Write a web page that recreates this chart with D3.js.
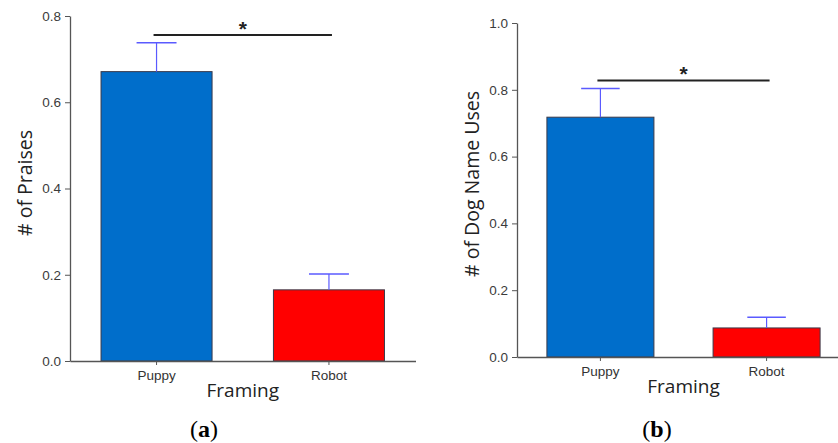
<!DOCTYPE html>
<html>
<head>
<meta charset="utf-8">
<script src="https://cdn.jsdelivr.net/npm/d3@7"></script>
<style>
  body { margin: 0; background: #fff; }
  svg { display: block; }
</style>
</head>
<body>
<div id="chart"></div>
<script>
// categories and values
var categories = ['Puppy', 'Robot'];
var praiseMeans = [0.671, 0.165];
var praiseErrs = [0.067, 0.037];
var dogNameMeans = [0.718, 0.087];
var dogNameErrs = [0.086, 0.032];
var praiseTicks = [0.0, 0.2, 0.4, 0.6, 0.8];
var dogNameTicks = [0.0, 0.2, 0.4, 0.6, 0.8, 1.0];
var barColors = ['#006ecb', '#ff0000'];

var W = 838, H = 443;
var svg = d3.select('#chart').append('svg')
  .attr('width', W)
  .attr('height', H);

function drawPanel(opt) {
  var g = svg.append('g');

  var y = d3.scaleLinear()
    .domain([0, opt.yMax])
    .range([opt.y0, opt.y1]);

  var x = d3.scaleBand()
    .domain(categories)
    .range([opt.x0, opt.x1])
    .paddingInner(0.356)
    .paddingOuter(0.18);

  // bars
  g.selectAll('rect.bar')
    .data(opt.means)
    .join('rect')
    .attr('class', 'bar')
    .attr('x', (d, i) => x(categories[i]))
    .attr('y', d => y(d))
    .attr('width', x.bandwidth())
    .attr('height', d => y(0) - y(d))
    .style('fill', (d, i) => barColors[i])
    .style('stroke', '#3a3a4a')
    .style('stroke-width', 1);

  // error bars (upper only)
  var cap = x.bandwidth() * 0.18;
  opt.means.forEach(function(m, i) {
    var cx = x(categories[i]) + x.bandwidth() / 2;
    g.append('line')
      .attr('x1', cx).attr('x2', cx)
      .attr('y1', y(m)).attr('y2', y(m + opt.errs[i]))
      .style('stroke', '#5a5aff').style('stroke-width', 1.2);
    g.append('line')
      .attr('x1', cx - cap).attr('x2', cx + cap)
      .attr('y1', y(m + opt.errs[i])).attr('y2', y(m + opt.errs[i]))
      .style('stroke', '#5a5aff').style('stroke-width', 1.5);
  });

  // y axis
  var yAxis = d3.axisLeft(y)
    .tickValues(opt.ticks)
    .tickFormat(d3.format('.1f'))
    .tickSize(5)
    .tickSizeOuter(0)
    .tickPadding(4);
  var ya = g.append('g')
    .attr('transform', 'translate(' + opt.x0 + ',0)')
    .call(yAxis);
  ya.select('.domain').style('stroke', '#555').style('stroke-width', 1.3);
  ya.selectAll('.tick line').style('stroke', '#555');
  ya.selectAll('text')
    .style('font-family', 'Liberation Sans, Arial, sans-serif')
    .style('font-size', '13.5px')
    .style('fill', '#3b3b3b');

  // x axis
  var xAxis = d3.axisBottom(x).tickSize(4).tickSizeOuter(0).tickPadding(5);
  var xa = g.append('g')
    .attr('transform', 'translate(0,' + opt.y0 + ')')
    .call(xAxis);
  xa.select('.domain').style('stroke', '#555').style('stroke-width', 1.3);
  xa.selectAll('.tick line').style('stroke', '#555');
  xa.selectAll('text')
    .style('font-family', 'Liberation Sans, Arial, sans-serif')
    .style('font-size', '13.5px')
    .style('fill', '#333');

  // significance bracket
  var sy = y(opt.sigLevel);
  var xa0 = x(categories[0]) + x.bandwidth() / 2 - 3;
  var xa1 = x(categories[1]) + x.bandwidth() / 2 + 3;
  g.append('line')
    .attr('x1', xa0).attr('x2', xa1)
    .attr('y1', sy).attr('y2', sy)
    .style('stroke', '#222').style('stroke-width', 2);
  g.append('text')
    .attr('x', (xa0 + xa1) / 2)
    .attr('y', sy + 1)
    .attr('text-anchor', 'middle')
    .style('font-family', 'Liberation Sans, Arial, sans-serif')
    .style('font-size', '21px')
    .style('font-weight', 'bold')
    .style('fill', '#222')
    .text('*');

  // axis titles
  g.append('text')
    .attr('transform', 'translate(' + opt.yLabelX + ',' + opt.yLabelY + ') rotate(-90)')
    .attr('text-anchor', 'middle')
    .style('font-family', 'Open Sans, sans-serif')
    .style('font-size', '19.5px')
    .style('fill', '#222')
    .text(opt.yLabel);

  g.append('text')
    .attr('x', (x(categories[0]) + x(categories[1]) + x.bandwidth()) / 2)
    .attr('y', opt.y0 + 36)
    .attr('text-anchor', 'middle')
    .style('font-family', 'Open Sans, sans-serif')
    .style('font-size', '19px')
    .style('fill', '#222')
    .text('Framing');

  // panel letter
  var pl = g.append('text')
    .attr('x', opt.letterX)
    .attr('y', 437)
    .attr('text-anchor', 'middle')
    .style('font-family', 'Liberation Serif, serif')
    .style('font-size', '24px')
    .style('fill', '#000');
  pl.append('tspan').text('(');
  pl.append('tspan').style('font-weight', 'bold').text(opt.letter);
  pl.append('tspan').text(')');
}

drawPanel({
  means: praiseMeans, errs: praiseErrs, ticks: praiseTicks,
  yMax: 0.8, y0: 361, y1: 16, x0: 70, x1: 415.5,
  sigLevel: 0.756, yLabel: '# of Praises', yLabelX: 32, yLabelY: 183,
  letter: 'a', letterX: 204
});

drawPanel({
  means: dogNameMeans, errs: dogNameErrs, ticks: dogNameTicks,
  yMax: 1.0, y0: 357, y1: 23, x0: 517, x1: 850,
  sigLevel: 0.828, yLabel: '# of Dog Name Uses', yLabelX: 479, yLabelY: 184,
  letter: 'b', letterX: 657
});
</script>
</body>
</html>
